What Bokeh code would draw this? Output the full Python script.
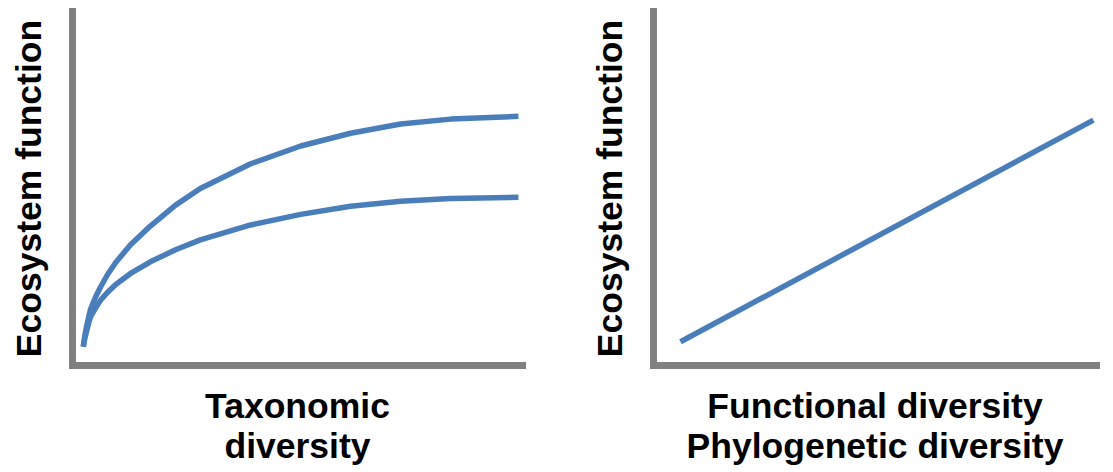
from bokeh.plotting import figure
from bokeh.layouts import row
from bokeh.models import Range1d, FixedTicker
from bokeh.embed import file_html
from bokeh.resources import INLINE

# Left panel: taxonomic diversity vs ecosystem function (two saturating curves)
tax_x = [0.24, 0.27, 0.31, 0.36, 0.40, 0.51, 0.62, 0.78, 0.96, 1.29, 1.73, 2.29,
         2.84, 3.96, 5.07, 6.18, 7.29, 8.40, 9.91]
tax_upper = [0.53, 0.81, 1.09, 1.37, 1.59, 1.93, 2.21, 2.57, 2.91, 3.41, 3.94, 4.53,
             5.00, 5.70, 6.20, 6.56, 6.82, 6.96, 7.04]
tax_lower = [0.53, 0.75, 0.95, 1.20, 1.37, 1.62, 1.84, 2.07, 2.29, 2.60, 2.93, 3.27,
             3.55, 3.97, 4.27, 4.50, 4.64, 4.72, 4.75]

# Right panel: functional / phylogenetic diversity (linear)
fun_x = [0.61, 9.93]
fun_y = [0.67, 6.93]

y_label = "Ecosystem function"
x_label_left = "Taxonomic\ndiversity"
x_label_right = "Functional diversity\nPhylogenetic diversity"

BLUE = "#4a7ebb"
AXIS = "#808080"
FONT = "Liberation Sans"


def style(p, xlab, ylab):
    p.x_range = Range1d(0, 10)
    p.y_range = Range1d(0, 10)
    p.outline_line_color = None
    p.grid.visible = False
    for ax in (p.xaxis, p.yaxis):
        ax.ticker = FixedTicker(ticks=[])
        ax.major_tick_line_color = None
        ax.minor_tick_line_color = None
        ax.major_label_text_font_size = "0px"
        ax.axis_line_color = AXIS
        ax.axis_line_width = 7
        ax.axis_line_cap = "square"
        ax.axis_label_text_font = FONT
        ax.axis_label_text_font_style = "bold"
        ax.axis_label_text_font_size = "35.5px"
        ax.axis_label_text_color = "black"
    p.xaxis.axis_label_text_line_height = 1.0
    p.xaxis.axis_label = xlab
    p.yaxis.axis_label = ylab
    p.xaxis.axis_label_standoff = 20
    p.yaxis.axis_label_standoff = 24


p1 = figure(width=586, height=468, output_backend="svg", toolbar_location=None,
            min_border_left=72, min_border_right=64, min_border_top=11, min_border_bottom=99)
style(p1, x_label_left, y_label)
p1.line(tax_x, tax_upper, line_color=BLUE, line_width=5.5)
p1.line(tax_x, tax_lower, line_color=BLUE, line_width=5.5)

p2 = figure(width=519, height=468, output_backend="svg", toolbar_location=None,
            min_border_left=64, min_border_right=9, min_border_top=11, min_border_bottom=99)
style(p2, x_label_right, y_label)
p2.line(fun_x, fun_y, line_color=BLUE, line_width=5.5)

layout = row(p1, p2)
open("out.html", "w").write(file_html(layout, INLINE))
